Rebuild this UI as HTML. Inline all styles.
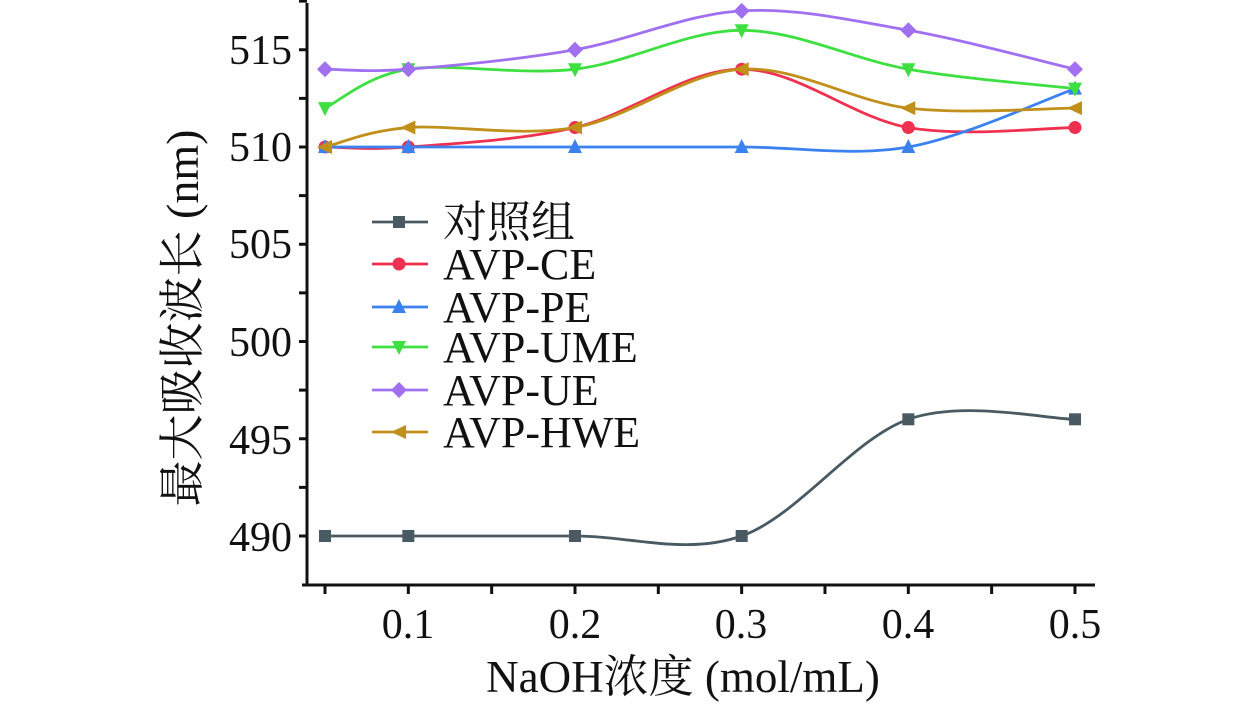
<!DOCTYPE html>
<html><head><meta charset="utf-8"><style>
html,body{margin:0;padding:0;background:#fff;}
svg text{font-family:"Liberation Serif","Noto Serif CJK SC",serif;fill:#111;}
</style></head><body>
<svg id="s" width="1260" height="705" viewBox="0 0 1260 705" xmlns="http://www.w3.org/2000/svg">
<g stroke="#111" stroke-width="3" fill="none">
<line x1="307" y1="3" x2="307" y2="586"/>
<line x1="302" y1="585" x2="1095" y2="585"/>
</g>
<g id="ticks" stroke="#111" stroke-width="3"></g>
<g font-size="42" text-anchor="end">
<text x="292" y="64">515</text><text x="292" y="161">510</text><text x="292" y="258">505</text>
<text x="292" y="356">500</text><text x="292" y="454">495</text><text x="292" y="551">490</text>
</g>
<g font-size="42" text-anchor="middle">
<text x="408" y="638">0.1</text><text x="575" y="638">0.2</text><text x="741" y="638">0.3</text>
<text x="908" y="638">0.4</text><text x="1075" y="638">0.5</text>
</g>
<text x="683" y="692" font-size="45" text-anchor="middle">NaOH浓度 (mol/mL)</text>
<text transform="translate(198,318) rotate(-90)" font-size="46" text-anchor="middle">最大吸收波长 (nm)</text>
<g id="series"></g>
<g id="legend" font-size="44"></g>
</svg>
<script>
var ns="http://www.w3.org/2000/svg";
function el(t,a,p){var e=document.createElementNS(ns,t);for(var k in a)e.setAttribute(k,a[k]);p.appendChild(e);return e;}
var tk=document.getElementById('ticks');
for(var v=490;v<=517.5;v+=2.5){var y=147-(v-510)*19.45;el('line',{x1:299,y1:y,x2:307,y2:y},tk);}
for(var i=0;i<10;i++){var x=325+i*83.33;el('line',{x1:x,y1:585,x2:x,y2:594},tk);}
var xs=[0.05,0.1,0.2,0.3,0.4,0.5];
function X(v){return 325+(v-0.05)*1666.7;}
function Y(v){return 147-(v-510)*19.45;}
var S=[
["对照组","#4a5a62","sq",[490,490,490,490,496,496]],
["AVP-CE","#f0304f","ci",[510,510,511,514,511,511]],
["AVP-PE","#3b82f0","tu",[510,510,510,510,510,513]],
["AVP-UME","#3de040","td",[512,514,514,516,514,513]],
["AVP-UE","#a070f0","di",[514,514,515,517,516,514]],
["AVP-HWE","#c0901a","tl",[510,511,511,514,512,512]]];
function marker(t,x,y,c,g){
 if(t=="sq")el('rect',{x:x-6,y:y-6,width:12,height:12,fill:c},g);
 if(t=="ci")el('circle',{cx:x,cy:y,r:6.5,fill:c},g);
 if(t=="tu")el('polygon',{points:(x-7)+","+(y+6)+" "+(x+7)+","+(y+6)+" "+x+","+(y-8),fill:c},g);
 if(t=="td")el('polygon',{points:(x-7)+","+(y-6)+" "+(x+7)+","+(y-6)+" "+x+","+(y+8),fill:c},g);
 if(t=="di")el('polygon',{points:x+","+(y-8)+" "+(x+8)+","+y+" "+x+","+(y+8)+" "+(x-8)+","+y,fill:c},g);
 if(t=="tl")el('polygon',{points:(x+7)+","+(y-7)+" "+(x+7)+","+(y+7)+" "+(x-8)+","+y,fill:c},g);
}
var sg=document.getElementById('series'),lg=document.getElementById('legend');
S.forEach(function(s,si){
 var P=xs.map(function(x,i){return [X(x),Y(s[3][i])];});
 var d="M"+P[0][0]+","+P[0][1];
 for(var i=0;i<P.length-1;i++){
  var p0=P[i-1]||P[i],p1=P[i],p2=P[i+1],p3=P[i+2]||P[i+1];
  var c1=[p1[0]+(p2[0]-p0[0])/6,p1[1]+(p2[1]-p0[1])/6];
  var c2=[p2[0]-(p3[0]-p1[0])/6,p2[1]-(p3[1]-p1[1])/6];
  d+=" C"+c1+" "+c2+" "+p2;
 }
 el('path',{d:d,stroke:s[1],"stroke-width":2.8,fill:"none"},sg);
 P.forEach(function(p){marker(s[2],p[0],p[1],s[1],sg);});
 var ly=[222,264,307,347,390,432][si];
 el('line',{x1:372,y1:ly,x2:428,y2:ly,stroke:s[1],"stroke-width":2.8},lg);
 marker(s[2],399,ly,s[1],lg);
 var t=el('text',{x:443,y:ly+15},lg);t.textContent=s[0];
});
</script>
</body></html>
